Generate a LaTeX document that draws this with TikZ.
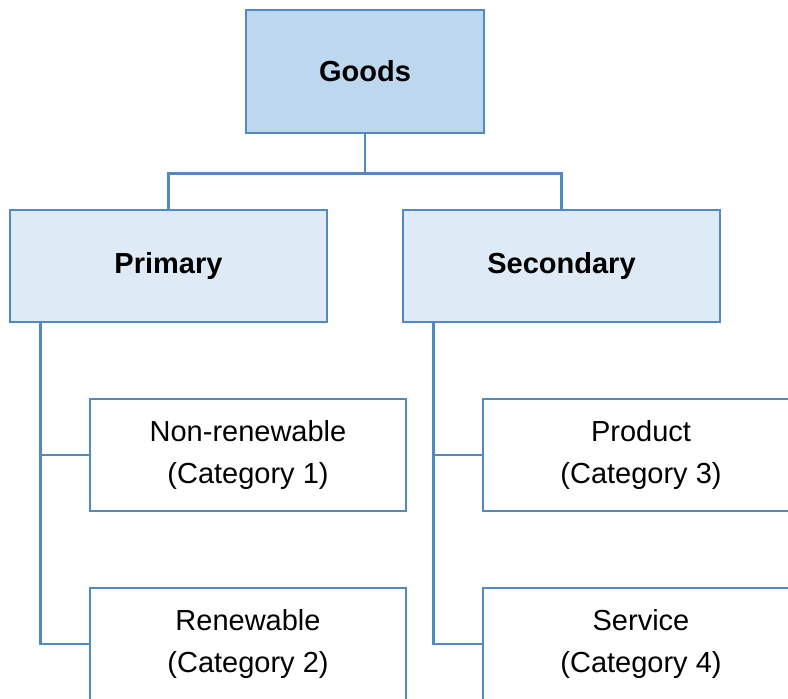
\documentclass[tikz,border=0pt]{standalone}
\usepackage{fontspec}
\setmainfont{Liberation Sans}
\usetikzlibrary{positioning}

\definecolor{edgeblue}{RGB}{83,137,193}
\definecolor{topfill}{RGB}{189,215,238}
\definecolor{midfill}{RGB}{222,234,246}

\tikzset{
  box/.style={draw=edgeblue, line width=2.6pt, align=center, inner sep=0pt,
    font=\fontsize{29}{42}\selectfont},
  link/.style={draw=edgeblue, line width=2.6pt}
}

\begin{document}
\begin{tikzpicture}[x=1pt, y=-1pt]
    \useasboundingbox (0,0) rectangle (788,699);

    \node[box, fill=topfill, minimum width=238pt, minimum height=123pt] (goods) at (365,71.5) {\textbf{Goods}};

    \node[box, fill=midfill, minimum width=317pt, minimum height=112pt] (primary) at (168.5,266) {\textbf{Primary}};
    \node[box, fill=midfill, minimum width=317pt, minimum height=112pt] (secondary) at (561.5,266) {\textbf{Secondary}};

    \node[box, fill=white, minimum width=316pt, minimum height=112pt] (nonren) at (248,455) {Non-renewable\\(Category 1)};
    \node[box, fill=white, minimum width=316pt, minimum height=112pt] (renew) at (248,644) {Renewable\\(Category 2)};
    \node[box, fill=white, minimum width=316pt, minimum height=112pt] (product) at (641,455) {Product\\(Category 3)};
    \node[box, fill=white, minimum width=316pt, minimum height=112pt] (service) at (641,644) {Service\\(Category 4)};

    % top level
    \draw[link] (goods.south) -- ++(0,39) -| (primary.north);
    \draw[link] (goods.south) -- ++(0,39) -| (secondary.north);

    % branches on the left side of each column
    \coordinate (ptrunk) at ([xshift=32pt]primary.south west);
    \coordinate (strunk) at ([xshift=32pt]secondary.south west);
    \draw[link] (ptrunk) |- (renew.west);
    \draw[link] (ptrunk |- nonren.west) -- (nonren.west);
    \draw[link] (strunk) |- (service.west);
    \draw[link] (strunk |- product.west) -- (product.west);
\end{tikzpicture}
\end{document}
